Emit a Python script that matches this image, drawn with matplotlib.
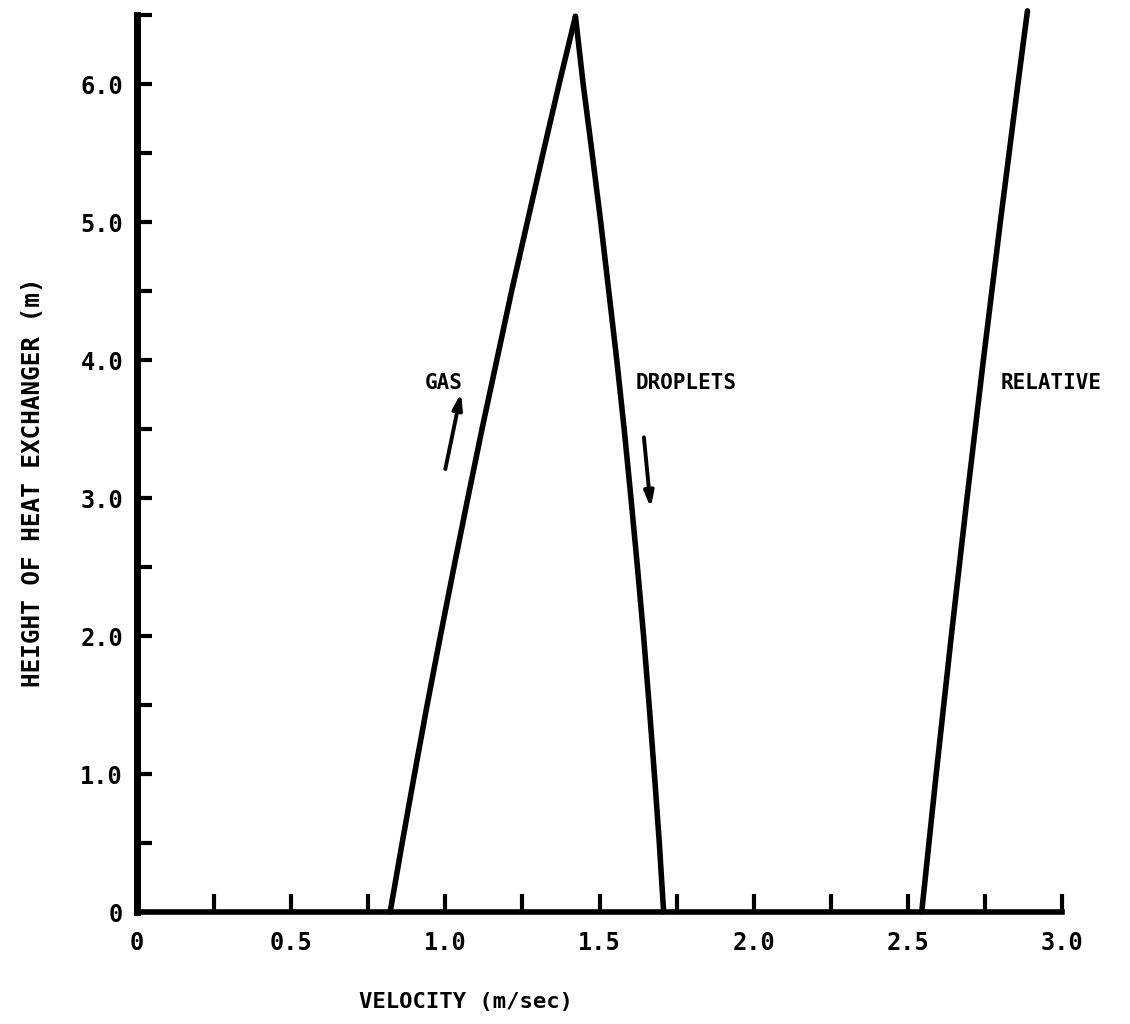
import numpy as np
import matplotlib
matplotlib.use("Agg")
import matplotlib.pyplot as plt

# ---- data ----
gas_y = [0.0, 0.5, 1.0, 1.5, 2.0, 2.5, 3.0, 3.5, 4.0, 4.5, 5.0, 5.5, 6.0, 6.49]
gas_x = [0.821, 0.860, 0.900, 0.941, 0.984, 1.028, 1.073, 1.119, 1.167,
         1.215, 1.266, 1.317, 1.369, 1.422]

drop_y = [6.49, 6.0, 5.5, 5.0, 4.5, 4.0, 3.5, 3.0, 2.5, 2.0, 1.5, 1.0, 0.5, 0.0]
drop_x = [1.422, 1.447, 1.476, 1.504, 1.530, 1.556, 1.580, 1.602, 1.623,
          1.643, 1.661, 1.678, 1.694, 1.708]

rel_y = [0.0, 1.0, 2.0, 3.0, 4.0, 5.0, 6.0, 6.53]
rel_x = [2.545, 2.592, 2.641, 2.692, 2.745, 2.800, 2.857, 2.888]

x_ticks = [0.0, 0.25, 0.5, 0.75, 1.0, 1.25, 1.5, 1.75, 2.0, 2.25, 2.5, 2.75, 3.0]
x_labels = ["0", "", "0.5", "", "1.0", "", "1.5", "", "2.0", "", "2.5", "", "3.0"]
y_ticks = [0.0, 0.5, 1.0, 1.5, 2.0, 2.5, 3.0, 3.5, 4.0, 4.5, 5.0, 5.5, 6.0, 6.5]
y_labels = ["0", "", "1.0", "", "2.0", "", "3.0", "", "4.0", "", "5.0", "", "6.0", ""]

labels = ["GAS", "DROPLETS", "RELATIVE"]
label_x = [0.994, 1.782, 2.964]
label_y = [3.83, 3.83, 3.83]

gas_arrow = [(1.000, 3.21), (1.051, 3.76)]    # tail, tip
drop_arrow = [(1.644, 3.44), (1.666, 2.93)]   # tail, tip

# ---- drawing ----
FONT = ["DejaVu Sans Mono"]
plt.rcParams["font.family"] = FONT
plt.rcParams["font.weight"] = "bold"

fig = plt.figure(figsize=(11.3, 10.24), dpi=100)
ax = fig.add_axes([137 / 1130, 112 / 1024, 925 / 1130, 897 / 1024])

lw = 4.0
for xs, ys in [(gas_x, gas_y), (drop_x, drop_y), (rel_x, rel_y)]:
    ax.plot(xs, ys, color="black", lw=lw, solid_capstyle="round",
            solid_joinstyle="round", clip_on=False)

for (t, tip) in [gas_arrow, drop_arrow]:
    ax.annotate("", xy=tip, xytext=t,
                arrowprops=dict(arrowstyle="-|>,head_length=0.9,head_width=0.28",
                                color="black", lw=2.8, shrinkA=0, shrinkB=0))

for s, x, y in zip(labels, label_x, label_y):
    ax.text(x, y, s, ha="center", va="center", fontsize=15, fontweight="bold")

ax.set_xlim(0, 3.0)
ax.set_ylim(0, 6.5)
for side in ["top", "right"]:
    ax.spines[side].set_visible(False)
ax.spines["left"].set_linewidth(5.0)
ax.spines["bottom"].set_linewidth(4.0)
for side in ["left", "bottom"]:
    ax.spines[side].set_capstyle("projecting")

ax.set_xticks(x_ticks)
ax.set_xticklabels(x_labels)
ax.set_yticks(y_ticks)
ax.set_yticklabels(y_labels)
ax.tick_params(axis="x", direction="in", length=13, width=3.0, pad=14,
               labelsize=17)
ax.tick_params(axis="y", direction="in", length=11, width=3.0, pad=10,
               labelsize=17)
for lab in ax.get_xticklabels() + ax.get_yticklabels():
    lab.set_fontweight("bold")

ax.set_xlabel("VELOCITY (m/sec)", fontsize=16, fontweight="bold")
ax.xaxis.set_label_coords(1.068 / 3.0, -0.089)
ax.set_ylabel("HEIGHT OF HEAT EXCHANGER (m)", fontsize=17.5, fontweight="bold")
ax.yaxis.set_label_coords(-0.0995, 0.479)

fig.savefig("out.png", dpi=100, facecolor="white")
